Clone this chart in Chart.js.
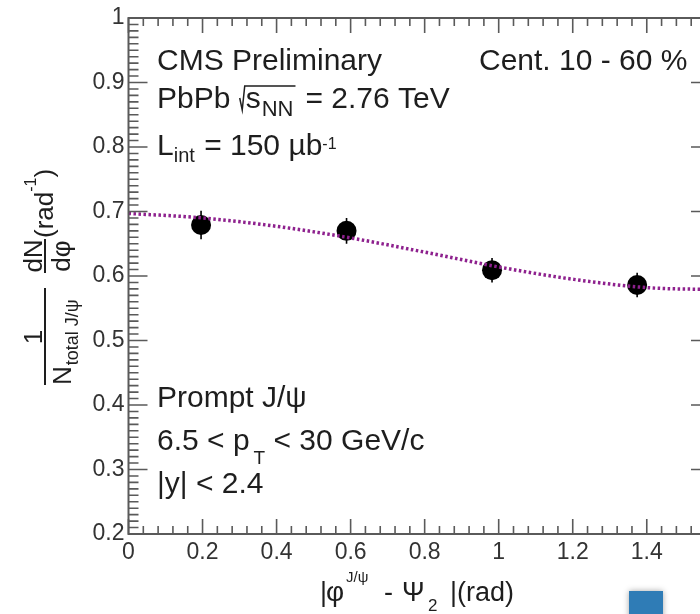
<!DOCTYPE html>
<html>
<head>
<meta charset="utf-8">
<title>Prompt J/psi vs event plane</title>
<script src="https://cdn.jsdelivr.net/npm/chart.js@4.4.1/dist/chart.umd.min.js"></script>
<style>
    html, body { margin: 0; padding: 0; background: #fff; overflow: hidden; width: 700px; height: 614px; }
    #wrap { position: relative; width: 700px; height: 614px; overflow: hidden; }
    #v2Chart { position: absolute; left: 0; top: 0; }
    #badge { position: absolute; left: 629px; top: 591px; width: 34px; height: 30px;
             background: #2f7cb6; box-shadow: 0 0 6px rgba(0, 0, 0, 0.35); }
</style>
</head>
<body>
<div id="wrap">
    <canvas id="v2Chart" width="720" height="614"></canvas>
    <div id="badge"></div>
</div>
<script>
// Prompt J/psi yield vs |phi - Psi_2|, CMS PbPb, Cent. 10 - 60 %
const binCenters = [0.196, 0.589, 0.982, 1.374];
const yieldValues = [0.679, 0.670, 0.609, 0.586];
const yieldErrors = [0.022, 0.020, 0.019, 0.019];

// dotted fit curve
const fitPhi = [0, 0.2, 0.4, 0.6, 0.8, 1.0, 1.2, 1.4, 1.571];
const fitValues = [0.697, 0.690, 0.677, 0.659, 0.637, 0.614, 0.595, 0.582, 0.579];

const xTicks = [0, 0.2, 0.4, 0.6, 0.8, 1, 1.2, 1.4];
const yTicks = [0.2, 0.3, 0.4, 0.5, 0.6, 0.7, 0.8, 0.9, 1];

const FONT = '"Liberation Sans", Arial, Helvetica, sans-serif';
const INK = '#1e1e1e';

function font(size) {
    return size + 'px ' + FONT;
}

// draw a row of text pieces; each piece can move (dx) or shift (dy)
function drawRuns(ctx, x, y, parts) {
    parts.forEach(p => {
        ctx.font = font(p.size);
        if (p.at !== undefined) x = p.at;
        x += p.dx || 0;
        ctx.fillText(p.t, x, y + (p.dy || 0));
        x += ctx.measureText(p.t).width;
    });
    return x;
}

// vertical stat error bars
const errorBars = {
    id: 'errorBars',
    beforeDatasetsDraw(chart) {
        const { ctx, scales: { x, y } } = chart;
        ctx.save();
        ctx.strokeStyle = '#000';
        ctx.lineWidth = 1.6;
        ctx.beginPath();
        binCenters.forEach((bx, i) => {
            const px = x.getPixelForValue(bx);
            ctx.moveTo(px, y.getPixelForValue(yieldValues[i] + yieldErrors[i]));
            ctx.lineTo(px, y.getPixelForValue(yieldValues[i] - yieldErrors[i]));
        });
        ctx.stroke();
        ctx.restore();
    }
};

// ROOT style frame with inward ticks on all four sides
const frameAxes = {
    id: 'frameAxes',
    afterDraw(chart) {
        const { ctx, chartArea: a, scales: { x, y } } = chart;
        ctx.save();
        ctx.strokeStyle = '#5a5a5a';
        ctx.lineWidth = 2;
        ctx.strokeRect(a.left, a.top, a.right - a.left, a.bottom - a.top);
        ctx.lineWidth = 1.6;
        ctx.beginPath();
        for (let i = 20; i <= 100; i++) {
            const py = y.getPixelForValue(i / 100);
            const len = i % 10 === 0 ? 19 : 10;
            ctx.moveTo(a.left, py);
            ctx.lineTo(a.left + len, py);
            ctx.moveTo(a.right, py);
            ctx.lineTo(a.right - len, py);
        }
        for (let i = 0; i * 0.04 <= x.max + 1e-9; i++) {
            const px = x.getPixelForValue(i * 0.04);
            const len = i % 5 === 0 ? 15 : 8;
            ctx.moveTo(px, a.bottom);
            ctx.lineTo(px, a.bottom - len);
            ctx.moveTo(px, a.top);
            ctx.lineTo(px, a.top + len);
        }
        ctx.stroke();
        ctx.restore();
    }
};

// legend texts and axis titles
const annotations = {
    id: 'annotations',
    afterDraw(chart) {
        const ctx = chart.ctx;
        ctx.save();
        ctx.fillStyle = INK;
        ctx.strokeStyle = INK;
        ctx.textBaseline = 'alphabetic';
        ctx.textAlign = 'left';

        drawRuns(ctx, 157, 70, [{ t: 'CMS Preliminary', size: 30 }]);
        drawRuns(ctx, 479, 70, [{ t: 'Cent. 10 - 60 %', size: 30 }]);

        // PbPb  sqrt(s_NN) = 2.76 TeV
        let x = drawRuns(ctx, 157, 108, [{ t: 'PbPb ', size: 30 }]);
        const rx = x + 1;
        x = drawRuns(ctx, rx + 6, 108, [
            { t: 's', size: 30 },
            { t: 'NN', size: 22, dx: 1, dy: 8 }
        ]);
        ctx.lineWidth = 1.5;
        ctx.beginPath();
        ctx.moveTo(rx, 98);
        ctx.lineTo(rx + 2.5, 110);
        ctx.lineTo(rx + 5, 86);
        ctx.lineTo(x + 2, 86);
        ctx.stroke();
        drawRuns(ctx, x + 12, 108, [{ t: '= 2.76 TeV', size: 30 }]);

        // L_int = 150 mub^-1
        drawRuns(ctx, 157, 155, [
            { t: 'L', size: 30 },
            { t: 'int', size: 20, dy: 7 },
            { t: ' = 150 \u00b5b', size: 30, dx: 1 },
            { t: '-1', size: 16, dy: -6 }
        ]);

        drawRuns(ctx, 157, 407, [{ t: 'Prompt J/\u03c8', size: 30 }]);
        drawRuns(ctx, 157, 450, [
            { t: '6.5 < p', size: 30 },
            { t: 'T', size: 19, dx: 4, dy: 14 },
            { t: ' < 30 GeV/c', size: 30 }
        ]);
        drawRuns(ctx, 157, 493, [{ t: '|y| < 2.4', size: 30 }]);

        // x title: |phi^{J/psi} - Psi_2 |(rad)
        drawRuns(ctx, 320, 601, [
            { t: '|', size: 27 },
            { t: '\u03c6', size: 28, at: 326 },
            { t: 'J/\u03c8', size: 15, at: 346, dy: -19 },
            { t: '-', size: 27, at: 384 },
            { t: '\u03a8', size: 27, at: 402 },
            { t: '2', size: 17, at: 428, dy: 10 },
            { t: '|(rad)', size: 27, at: 450 }
        ]);

        // y title, rotated: 1/N_total J/psi dN/dphi (rad^-1)
        ctx.save();
        ctx.rotate(-Math.PI / 2);
        // local (u, v) -> page (v, -u)
        ctx.textAlign = 'center';
        ctx.font = font(26);
        ctx.fillText('1', -337, 42);
        ctx.fillText('dN', -256, 42);
        ctx.fillText('d\u03c6', -256, 70);
        ctx.textAlign = 'left';
        drawRuns(ctx, -385, 71, [{ t: 'N', size: 26 }]);
        ctx.font = font(26);
        const nW = ctx.measureText('N').width;
        drawRuns(ctx, -385 + nW + 1, 78, [{ t: 'total J/\u03c8', size: 18 }]);
        let u = drawRuns(ctx, -238, 53, [{ t: '(rad', size: 26 }]);
        u = drawRuns(ctx, u, 36, [{ t: '-1', size: 16 }]);
        drawRuns(ctx, u, 53, [{ t: ')', size: 26 }]);
        ctx.restore();

        ctx.lineWidth = 2;
        ctx.beginPath();
        ctx.moveTo(45, 288);
        ctx.lineTo(45, 385);
        ctx.moveTo(45, 239);
        ctx.lineTo(45, 273);
        ctx.stroke();

        ctx.restore();
    }
};

const pointData = binCenters.map((bx, i) => ({ x: bx, y: yieldValues[i] }));
const fitData = fitPhi.map((fx, i) => ({ x: fx, y: fitValues[i] }));

const tickFont = { family: FONT, size: 23 };

new Chart(document.getElementById('v2Chart'), {
    type: 'scatter',
    data: {
        datasets: [
            {
                label: 'fit',
                data: fitData,
                showLine: true,
                pointRadius: 0,
                borderColor: '#8e218e',
                borderWidth: 3.5,
                borderDash: [2.5, 2.5],
                cubicInterpolationMode: 'monotone',
                order: 0
            },
            {
                label: 'Prompt J/psi',
                data: pointData,
                showLine: false,
                pointRadius: 10,
                pointBackgroundColor: '#000',
                pointBorderColor: '#000',
                pointBorderWidth: 0,
                order: 1
            }
        ]
    },
    options: {
        responsive: false,
        animation: false,
        layout: { padding: { left: 0.5, top: 18, right: 9, bottom: 0 } },
        plugins: {
            legend: { display: false },
            tooltip: { enabled: false }
        },
        scales: {
            x: {
                type: 'linear',
                min: 0,
                max: Math.PI / 2,
                grid: { display: false, drawTicks: false },
                border: { display: false },
                afterBuildTicks: s => { s.ticks = xTicks.map(v => ({ value: v })); },
                afterFit: s => { s.height = 80; },
                ticks: {
                    font: tickFont,
                    color: '#333',
                    padding: 5,
                    maxRotation: 0,
                    autoSkip: false,
                    callback: v => String(v)
                }
            },
            y: {
                type: 'linear',
                min: 0.2,
                max: 1,
                grid: { display: false, drawTicks: false },
                border: { display: false },
                afterBuildTicks: s => { s.ticks = yTicks.map(v => ({ value: v })); },
                afterFit: s => { s.width = 128; },
                ticks: {
                    font: tickFont,
                    color: '#333',
                    padding: 4,
                    autoSkip: false,
                    callback: v => (v === 1 ? '1' : v.toFixed(1))
                }
            }
        }
    },
    plugins: [errorBars, frameAxes, annotations]
});
</script>
</body>
</html>
